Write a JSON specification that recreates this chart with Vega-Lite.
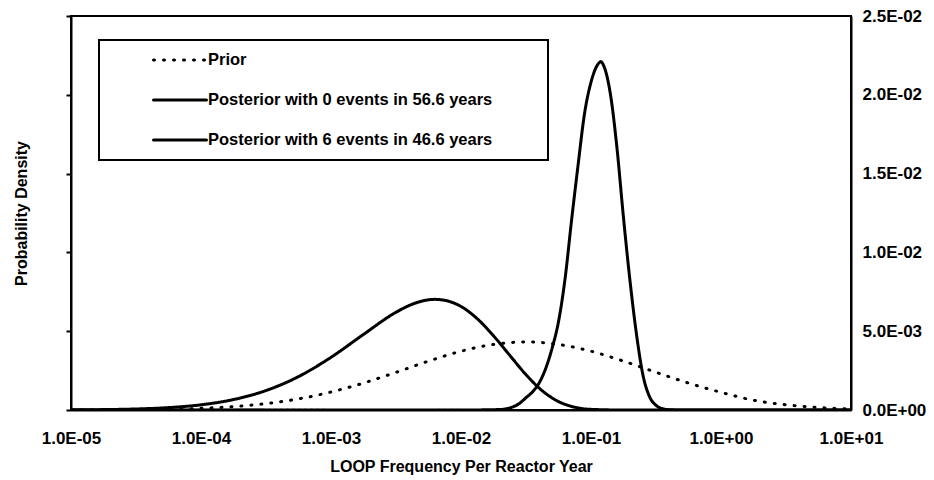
{
  "$schema": "https://vega.github.io/schema/vega-lite/v6.json",
  "width": 780,
  "height": 394,
  "autosize": {"type": "none"},
  "padding": {"left": 71, "top": 16, "right": 83, "bottom": 70},
  "background": "white",
  "config": {
    "view": {"stroke": "black", "strokeWidth": 2},
    "font": "Liberation Sans",
    "axis": {
      "domainColor": "black", "domainWidth": 2, "tickColor": "black", "tickWidth": 2, "grid": false,
      "labelFont": "Liberation Sans", "labelFontWeight": "bold", "labelColor": "black",
      "titleFont": "Liberation Sans", "titleFontWeight": "bold", "titleColor": "black"
    }
  },
  "datasets": {
    "curves": [
      {"series": "Prior", "x": 1e-5, "y": 3.1e-6},
      {"series": "Prior", "x": 1.778e-5, "y": 8.3e-6},
      {"series": "Prior", "x": 3.162e-5, "y": 2.1e-5},
      {"series": "Prior", "x": 5.623e-5, "y": 4.9e-5},
      {"series": "Prior", "x": 1e-4, "y": 1.07e-4},
      {"series": "Prior", "x": 1.778e-4, "y": 2.16e-4},
      {"series": "Prior", "x": 3.162e-4, "y": 4.05e-4},
      {"series": "Prior", "x": 5.623e-4, "y": 7.05e-4},
      {"series": "Prior", "x": 1e-3, "y": 1.14e-3},
      {"series": "Prior", "x": 1.778e-3, "y": 1.71e-3},
      {"series": "Prior", "x": 3.162e-3, "y": 2.39e-3},
      {"series": "Prior", "x": 5.623e-3, "y": 3.10e-3},
      {"series": "Prior", "x": 0.01, "y": 3.73e-3},
      {"series": "Prior", "x": 0.01778, "y": 4.16e-3},
      {"series": "Prior", "x": 0.03162, "y": 4.32e-3},
      {"series": "Prior", "x": 0.05623, "y": 4.16e-3},
      {"series": "Prior", "x": 0.1, "y": 3.73e-3},
      {"series": "Prior", "x": 0.1778, "y": 3.10e-3},
      {"series": "Prior", "x": 0.3162, "y": 2.39e-3},
      {"series": "Prior", "x": 0.5623, "y": 1.71e-3},
      {"series": "Prior", "x": 1, "y": 1.12e-3},
      {"series": "Prior", "x": 1.778, "y": 6.2e-4},
      {"series": "Prior", "x": 3.162, "y": 3.3e-4},
      {"series": "Prior", "x": 5.623, "y": 1.6e-4},
      {"series": "Prior", "x": 10, "y": 6e-5},

      {"series": "Posterior with 0 events in 56.6 years", "x": 1e-5, "y": 9.6e-6},
      {"series": "Posterior with 0 events in 56.6 years", "x": 1.778e-5, "y": 2.6e-5},
      {"series": "Posterior with 0 events in 56.6 years", "x": 3.162e-5, "y": 6.5e-5},
      {"series": "Posterior with 0 events in 56.6 years", "x": 5.623e-5, "y": 1.52e-4},
      {"series": "Posterior with 0 events in 56.6 years", "x": 1e-4, "y": 3.3e-4},
      {"series": "Posterior with 0 events in 56.6 years", "x": 1.778e-4, "y": 6.63e-4},
      {"series": "Posterior with 0 events in 56.6 years", "x": 3.162e-4, "y": 1.234e-3},
      {"series": "Posterior with 0 events in 56.6 years", "x": 5.623e-4, "y": 2.118e-3},
      {"series": "Posterior with 0 events in 56.6 years", "x": 1e-3, "y": 3.342e-3},
      {"series": "Posterior with 0 events in 56.6 years", "x": 1.778e-3, "y": 4.796e-3},
      {"series": "Posterior with 0 events in 56.6 years", "x": 3.162e-3, "y": 6.2e-3},
      {"series": "Posterior with 0 events in 56.6 years", "x": 4.217e-3, "y": 6.71e-3},
      {"series": "Posterior with 0 events in 56.6 years", "x": 5.623e-3, "y": 6.99e-3},
      {"series": "Posterior with 0 events in 56.6 years", "x": 6.31e-3, "y": 7.02e-3},
      {"series": "Posterior with 0 events in 56.6 years", "x": 7.499e-3, "y": 6.96e-3},
      {"series": "Posterior with 0 events in 56.6 years", "x": 0.01, "y": 6.57e-3},
      {"series": "Posterior with 0 events in 56.6 years", "x": 0.01334, "y": 5.79e-3},
      {"series": "Posterior with 0 events in 56.6 years", "x": 0.01778, "y": 4.71e-3},
      {"series": "Posterior with 0 events in 56.6 years", "x": 0.02371, "y": 3.47e-3},
      {"series": "Posterior with 0 events in 56.6 years", "x": 0.03162, "y": 2.24e-3},
      {"series": "Posterior with 0 events in 56.6 years", "x": 0.04217, "y": 1.22e-3},
      {"series": "Posterior with 0 events in 56.6 years", "x": 0.05623, "y": 5.35e-4},
      {"series": "Posterior with 0 events in 56.6 years", "x": 0.07499, "y": 1.77e-4},
      {"series": "Posterior with 0 events in 56.6 years", "x": 0.1, "y": 4e-5},
      {"series": "Posterior with 0 events in 56.6 years", "x": 0.1778, "y": 0},
      {"series": "Posterior with 0 events in 56.6 years", "x": 10, "y": 0},

      {"series": "Posterior with 6 events in 46.6 years", "x": 1e-5, "y": 0},
      {"series": "Posterior with 6 events in 46.6 years", "x": 0.01, "y": 0},
      {"series": "Posterior with 6 events in 46.6 years", "x": 0.01995, "y": 3e-5},
      {"series": "Posterior with 6 events in 46.6 years", "x": 0.02239, "y": 8e-5},
      {"series": "Posterior with 6 events in 46.6 years", "x": 0.02512, "y": 2e-4},
      {"series": "Posterior with 6 events in 46.6 years", "x": 0.02818, "y": 4.2e-4},
      {"series": "Posterior with 6 events in 46.6 years", "x": 0.03162, "y": 7.8e-4},
      {"series": "Posterior with 6 events in 46.6 years", "x": 0.03548, "y": 1.15e-3},
      {"series": "Posterior with 6 events in 46.6 years", "x": 0.03981, "y": 1.7e-3},
      {"series": "Posterior with 6 events in 46.6 years", "x": 0.04467, "y": 2.6e-3},
      {"series": "Posterior with 6 events in 46.6 years", "x": 0.05012, "y": 3.9e-3},
      {"series": "Posterior with 6 events in 46.6 years", "x": 0.05623, "y": 5.6e-3},
      {"series": "Posterior with 6 events in 46.6 years", "x": 0.0631, "y": 8.3e-3},
      {"series": "Posterior with 6 events in 46.6 years", "x": 0.07079, "y": 0.012},
      {"series": "Posterior with 6 events in 46.6 years", "x": 0.07943, "y": 0.0155},
      {"series": "Posterior with 6 events in 46.6 years", "x": 0.08913, "y": 0.0188},
      {"series": "Posterior with 6 events in 46.6 years", "x": 0.1, "y": 0.0208},
      {"series": "Posterior with 6 events in 46.6 years", "x": 0.1122, "y": 0.0219},
      {"series": "Posterior with 6 events in 46.6 years", "x": 0.1189, "y": 0.0221},
      {"series": "Posterior with 6 events in 46.6 years", "x": 0.1259, "y": 0.0218},
      {"series": "Posterior with 6 events in 46.6 years", "x": 0.1413, "y": 0.02},
      {"series": "Posterior with 6 events in 46.6 years", "x": 0.1585, "y": 0.0166},
      {"series": "Posterior with 6 events in 46.6 years", "x": 0.1778, "y": 0.0122},
      {"series": "Posterior with 6 events in 46.6 years", "x": 0.1995, "y": 0.0082},
      {"series": "Posterior with 6 events in 46.6 years", "x": 0.2239, "y": 0.0048},
      {"series": "Posterior with 6 events in 46.6 years", "x": 0.2512, "y": 0.0022},
      {"series": "Posterior with 6 events in 46.6 years", "x": 0.2818, "y": 8.5e-4},
      {"series": "Posterior with 6 events in 46.6 years", "x": 0.3162, "y": 3e-4},
      {"series": "Posterior with 6 events in 46.6 years", "x": 0.3548, "y": 8e-5},
      {"series": "Posterior with 6 events in 46.6 years", "x": 0.3981, "y": 2e-5},
      {"series": "Posterior with 6 events in 46.6 years", "x": 0.5012, "y": 0},
      {"series": "Posterior with 6 events in 46.6 years", "x": 10, "y": 0}
    ]
  },
  "data": {"name": "curves"},
  "layer": [
    {
      "mark": {"type": "line", "color": "black", "strokeWidth": 3, "strokeCap": "round", "strokeJoin": "round", "interpolate": "monotone", "clip": true},
      "encoding": {
        "x": {
          "field": "x", "type": "quantitative",
          "scale": {"type": "log", "domain": [1e-5, 10], "nice": false},
          "axis": {
            "values": [1e-5, 1e-4, 1e-3, 0.01, 0.1, 1, 10],
            "tickSize": 0, "labelPadding": 20, "labelFontSize": 17, "labelFlush": false, "labelOverlap": false,
            "labelExpr": "replace(replace(format(datum.value, '.1e'), 'e-', 'E-0'), 'e+', 'E+0')",
            "title": "LOOP Frequency Per Reactor Year", "titleFontSize": 16, "titlePadding": 12
          }
        },
        "y": {
          "field": "y", "type": "quantitative",
          "scale": {"domain": [0, 0.025], "nice": false, "zero": true},
          "axis": {
            "orient": "left", "values": [0, 0.005, 0.01, 0.015, 0.02, 0.025],
            "labels": false, "tickSize": 5,
            "title": "Probability Density", "titleFontSize": 16, "titlePadding": 36
          }
        },
        "strokeDash": {
          "field": "series", "type": "nominal",
          "scale": {
            "domain": ["Prior", "Posterior with 0 events in 56.6 years", "Posterior with 6 events in 46.6 years"],
            "range": [[1, 9], [1, 0], [1, 0]]
          },
          "legend": {
            "title": null, "orient": "none", "legendX": 28, "legendY": 24, "direction": "vertical",
            "strokeColor": "black", "fillColor": "white", "padding": 7,
            "symbolType": "stroke", "symbolSize": 2809, "symbolStrokeWidth": 3, "symbolStrokeColor": "black",
            "symbolOffset": 46, "labelOffset": 0,
            "labelFont": "Liberation Sans", "labelFontWeight": "bold", "labelFontSize": 16.5, "labelColor": "black",
            "labelLimit": 600, "clipHeight": 26, "rowPadding": 14,
            "labelExpr": "datum.label + '\u2800\u2800\u2800\u2800'",
            "encode": {
              "symbols": {"update": {"strokeCap": {"value": "round"}}},
              "legend": {"update": {"strokeWidth": {"value": 2}}}
            }
          }
        }
      }
    },
    {
      "mark": {"type": "point", "opacity": 0},
      "encoding": {
        "x": {"field": "x", "type": "quantitative", "scale": {"type": "log", "domain": [1e-5, 10], "nice": false}},
        "y": {
          "field": "y", "type": "quantitative",
          "scale": {"domain": [0, 0.025], "nice": false, "zero": true},
          "axis": {
            "orient": "right", "values": [0, 0.005, 0.01, 0.015, 0.02, 0.025],
            "tickSize": 0, "labelPadding": 11, "labelFontSize": 17,
            "labelExpr": "replace(replace(format(datum.value, '.1e'), 'e-', 'E-0'), 'e+', 'E+0')",
            "title": null
          }
        }
      }
    }
  ],
  "resolve": {"axis": {"y": "independent"}}
}
